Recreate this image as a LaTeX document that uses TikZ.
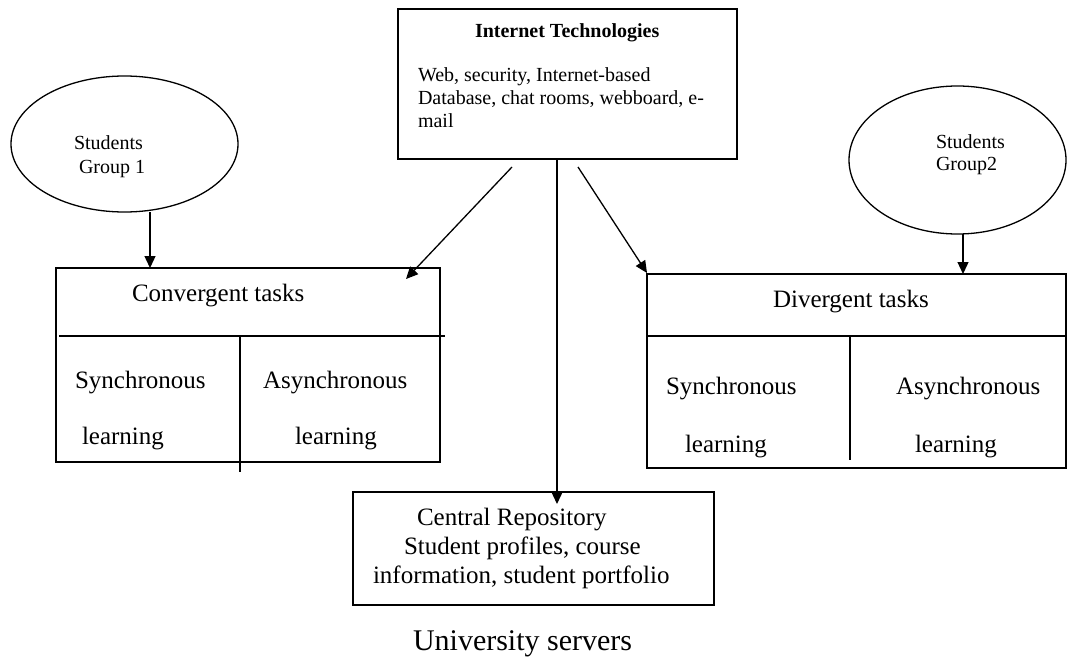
\documentclass[tikz,border=0pt]{standalone}
\usepackage{fontspec}
\setmainfont{Liberation Serif}
\usetikzlibrary{arrows.meta,shapes.geometric}
\newcommand\fsmall{\fontsize{20}{23}\selectfont}
\newcommand\fmid{\fontsize{25}{29}\selectfont}
\newcommand\fbig{\fontsize{30}{34}\selectfont}
\tikzset{
  box/.style={draw, line width=1.4pt, inner sep=0pt, outer sep=0pt},
  oval/.style={draw, ellipse, line width=1.3pt, inner sep=0pt, outer sep=0pt},
  lbl/.style={anchor=base west, inner sep=0pt, outer sep=0pt},
  divline/.style={line width=1.4pt},
  arr/.style={line width=1.3pt, -{Triangle[length=12pt,width=11pt]}},
}
\begin{document}
\begin{tikzpicture}[x=1pt,y=-1pt]
\path[use as bounding box] (0,0) rectangle (1067,658);

% Internet technologies box
\node[box, minimum width=339pt, minimum height=150pt] (it) at (567.5,84) {};
\node[lbl, font=\fsmall\bfseries] (ittitle) at (475,38) {Internet Technologies};
\node[lbl, font=\fsmall] (itl1) at (418,82) {Web, security, Internet-based};
\node[lbl, font=\fsmall] (itl2) at (418,105) {Database, chat rooms, webboard, e-};
\node[lbl, font=\fsmall] (itl3) at (418,128) {mail};

% Students group 1
\node[oval, minimum width=227pt, minimum height=136pt] (e1) at (124.5,144) {};
\node[lbl, font=\fsmall] (e1a) at (74,149) {Students};
\node[lbl, font=\fsmall] (e1b) at (79,173) {Group 1};

% Students group 2
\node[oval, minimum width=217pt, minimum height=148pt] (e2) at (957.5,160) {};
\node[lbl, font=\fsmall] (e2a) at (936,148) {Students};
\node[lbl, font=\fsmall] (e2b) at (936,170) {Group2};

% Convergent tasks box
\node[box, minimum width=384pt, minimum height=194pt] (conv) at (248,365) {};
\coordinate (cdl) at (59,336);
\coordinate (cdr) at (445,336);
\coordinate (cvt) at (240,336);
\coordinate (cvb) at (240,472);
\draw[divline] (cdl) -- (cdr);
\draw[divline] (cvt) -- (cvb);
\node[lbl, font=\fmid] (convt) at (132,301) {Convergent tasks};
\node[lbl, font=\fmid] (cs1) at (75,388) {Synchronous};
\node[lbl, font=\fmid] (cs2) at (82,444) {learning};
\node[lbl, font=\fmid] (ca1) at (263,388) {Asynchronous};
\node[lbl, font=\fmid] (ca2) at (295,444) {learning};

% Divergent tasks box
\node[box, minimum width=419pt, minimum height=194pt] (div) at (856.5,371) {};
\coordinate (ddl) at (647,336);
\coordinate (ddr) at (1067,336);
\coordinate (dvt) at (850,336);
\coordinate (dvb) at (850,460);
\draw[divline] (ddl) -- (ddr);
\draw[divline] (dvt) -- (dvb);
\node[lbl, font=\fmid] (divt) at (773,307) {Divergent tasks};
\node[lbl, font=\fmid] (ds1) at (666,394) {Synchronous};
\node[lbl, font=\fmid] (ds2) at (685,452) {learning};
\node[lbl, font=\fmid] (da1) at (896,394) {Asynchronous};
\node[lbl, font=\fmid] (da2) at (915,452) {learning};

% Central repository box
\node[box, minimum width=361pt, minimum height=113pt] (repo) at (533.5,548.5) {};
\node[lbl, font=\fmid] (r1) at (417,525) {Central Repository};
\node[lbl, font=\fmid] (r2) at (404,554) {Student profiles, course};
\node[lbl, font=\fmid] (r3) at (373,583) {information, student portfolio};

% caption
\node[lbl, font=\fbig] (cap) at (413,650) {University servers};

% connectors
\coordinate (x1) at (150,0);
\coordinate (x2) at (963,0);
\coordinate (x3) at (557,0);
\coordinate (s1) at (512,167);
\coordinate (t1) at (406,279);
\coordinate (s2) at (578,167);
\coordinate (t2) at (647,273);
\coordinate (t3) at (557,504);
\draw[arr] (e1.south -| x1) -- (conv.north -| x1);
\draw[arr] (e2.south -| x2) -- (div.north -| x2);
\draw[arr] (it.south -| x3) -- (t3);
\draw[arr] (s1) -- (t1);
\draw[arr] (s2) -- (t2);
\end{tikzpicture}
\end{document}
